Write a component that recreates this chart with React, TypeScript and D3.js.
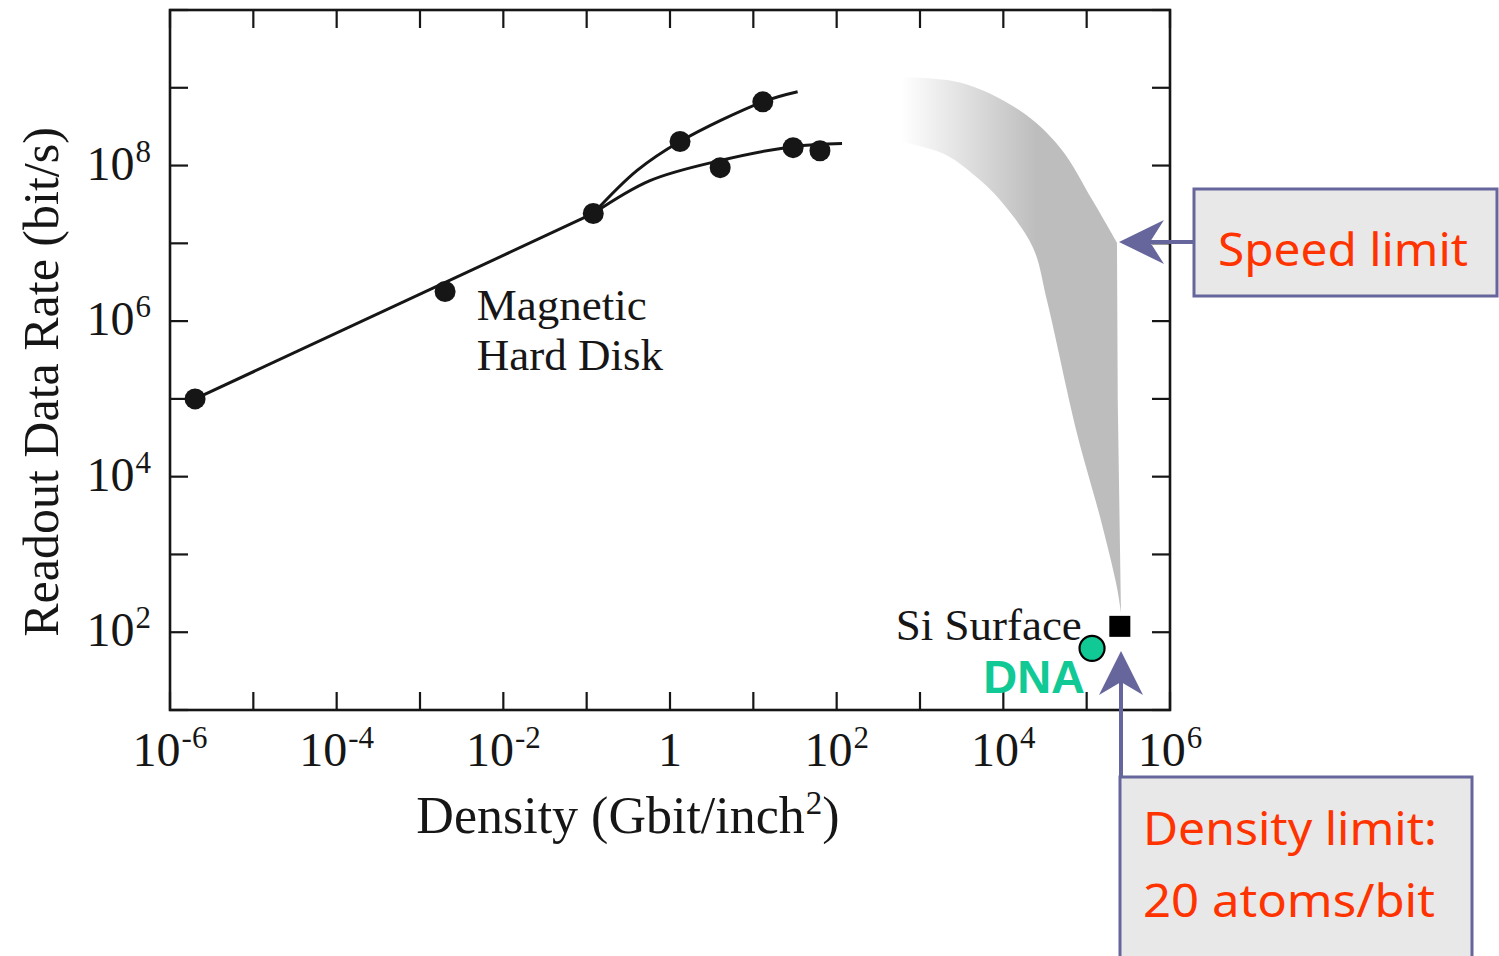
import React from "react";
import * as d3 from "d3";

// ---------- data ----------
const xTickExps = [-6, -5, -4, -3, -2, -1, 0, 1, 2, 3, 4, 5, 6];
const xLabelExps = [-6, -4, -2, 0, 2, 4, 6];
const yTickExps = [1, 2, 3, 4, 5, 6, 7, 8, 9, 10];
const yLabelExps = [2, 4, 6, 8];

// Magnetic hard disk measurements: density (Gbit/inch^2), readout rate (bit/s)
const diskDensity = [2e-6, 2e-3, 0.12, 1.32, 4, 13, 30, 63];
const diskRate = [1e5, 2.4e6, 2.42e7, 2.04e8, 9.4e7, 6.6e8, 1.7e8, 1.55e8];

// trend lines
const trendStraightDensity = [2e-6, 0.12];
const trendStraightRate = [1e5, 2.42e7];
const trendUpperDensity = [0.12, 0.4, 1.32, 13, 34];
const trendUpperRate = [2.42e7, 8.6e7, 2.04e8, 6.6e8, 8.9e8];
const trendLowerDensity = [0.12, 0.575, 4, 30, 116];
const trendLowerRate = [2.42e7, 6.4e7, 1.16e8, 1.75e8, 1.92e8];

// shaded "speed limit" band
const bandOuterCurveDensity = [400, 3020, 1.58e4, 4.8e4, 1.19e5, 2.31e5];
const bandOuterCurveRate = [1.38e9, 1.17e9, 5.1e8, 1.7e8, 3.5e7, 1.02e7];
const bandOuterEdgeDensity = [2.31e5, 2.36e5, 2.58e5];
const bandOuterEdgeRate = [1.02e7, 9.5e4, 180];
const bandInnerDensity = [2.58e5, 2.31e5, 1.45e5, 7.66e4, 3.34e4, 2.27e4, 9.9e3, 4.83e3, 1.89e3, 400];
const bandInnerRate = [180, 377, 3.0e3, 3.6e4, 1.84e6, 8.8e6, 3.25e7, 7.0e7, 1.43e8, 2.2e8];

// special points
const siDensity = 2.5e5;
const siRate = 119;
const dnaDensity = 1.16e5;
const dnaRate = 62;

// ---------- layout ----------
const W = 1499;
const H = 956;
const plot = { left: 170, right: 1170, top: 10, bottom: 710 };

const serif = "'Liberation Serif', 'Times New Roman', serif";
const comic = "'Comic Sans MS', 'Noto Sans', 'DejaVu Sans', sans-serif";
const ink = "#161616";
const arrowColor = "#66669c";
const red = "#ff3300";
const green = "#10c994";

export default function App() {
  const x = d3.scaleLog().domain([1e-6, 1e6]).range([plot.left, plot.right]);
  const y = d3.scaleLog().domain([1e1, 1e10]).range([plot.bottom, plot.top]);

  const line = d3
    .line<[number, number]>()
    .x((d) => x(d[0]))
    .y((d) => y(d[1]))
    .curve(d3.curveCatmullRom.alpha(0.5));
  const straight = d3
    .line<[number, number]>()
    .x((d) => x(d[0]))
    .y((d) => y(d[1]));

  const zip = (a: number[], b: number[]) => a.map((v, i) => [v, b[i]] as [number, number]);

  const outerCurve = line(zip(bandOuterCurveDensity, bandOuterCurveRate)) || "";
  const outerEdge = straight(zip(bandOuterEdgeDensity, bandOuterEdgeRate)) || "";
  const inner = line(zip(bandInnerDensity, bandInnerRate)) || "";
  const bandPath = outerCurve + "L" + outerEdge.slice(1) + "L" + inner.slice(1) + "Z";

  const tickLen = 18;

  const supLabel = (e: number) => {
    if (e === 0) return [<tspan key="b">1</tspan>];
    return [
      <tspan key="b">10</tspan>,
      <tspan key="s" dy={-18} dx={1} fontSize={31}>
        {String(e)}
      </tspan>,
    ];
  };

  return (
    <svg
      width={W}
      height={H}
      style={{ position: "absolute", left: 0, top: 0, background: "#fff" }}
    >
      <defs>
        <linearGradient
          id="bandGrad"
          gradientUnits="userSpaceOnUse"
          x1={x(600)}
          y1={0}
          x2={x(2.5e4)}
          y2={0}
        >
          <stop offset="0" stopColor="#ffffff" />
          <stop offset="1" stopColor="#bdbdbd" />
        </linearGradient>
      </defs>

      {/* shaded band */}
      <path d={bandPath} fill="url(#bandGrad)" stroke="none" />

      {/* frame */}
      <rect
        x={plot.left}
        y={plot.top}
        width={plot.right - plot.left}
        height={plot.bottom - plot.top}
        fill="none"
        stroke={ink}
        strokeWidth={2.6}
      />

      {/* x ticks (bottom & top, inward) */}
      {xTickExps.map((e) => {
        const px = x(Math.pow(10, e));
        return (
          <g key={"xt" + e} stroke={ink} strokeWidth={2.2}>
            <line x1={px} x2={px} y1={plot.bottom} y2={plot.bottom - tickLen} />
            <line x1={px} x2={px} y1={plot.top} y2={plot.top + tickLen} />
          </g>
        );
      })}
      {/* y ticks (left & right, inward) */}
      {yTickExps.map((e) => {
        const py = y(Math.pow(10, e));
        return (
          <g key={"yt" + e} stroke={ink} strokeWidth={2.2}>
            <line x1={plot.left} x2={plot.left + tickLen} y1={py} y2={py} />
            <line x1={plot.right} x2={plot.right - tickLen} y1={py} y2={py} />
          </g>
        );
      })}

      {/* x tick labels */}
      {xLabelExps.map((e) => (
        <text
          key={"xl" + e}
          x={x(Math.pow(10, e))}
          y={plot.bottom + 56}
          textAnchor="middle"
          fontFamily={serif}
          fontSize={48}
          fill={ink}
        >
          {supLabel(e)}
        </text>
      ))}
      {/* y tick labels */}
      {yLabelExps.map((e) => (
        <text
          key={"yl" + e}
          x={plot.left - 19}
          y={y(Math.pow(10, e)) + 14}
          textAnchor="end"
          fontFamily={serif}
          fontSize={48}
          fill={ink}
        >
          {supLabel(e)}
        </text>
      ))}

      {/* axis titles */}
      <text
        x={(plot.left + plot.right) / 2 - 42}
        y={833}
        textAnchor="middle"
        fontFamily={serif}
        fontSize={52}
        fill={ink}
      >
        <tspan>Density (Gbit/inch</tspan>
        <tspan dy={-19} dx={1} fontSize={33}>
          2
        </tspan>
        <tspan dy={19}>)</tspan>
      </text>
      <text
        transform={`translate(58, ${382}) rotate(-90)`}
        textAnchor="middle"
        fontFamily={serif}
        fontSize={50}
        fill={ink}
      >
        Readout Data Rate (bit/s)
      </text>

      {/* trend lines */}
      <g fill="none" stroke={ink} strokeWidth={3}>
        <path d={line(zip(trendStraightDensity, trendStraightRate)) || ""} />
        <path d={line(zip(trendUpperDensity, trendUpperRate)) || ""} />
        <path d={line(zip(trendLowerDensity, trendLowerRate)) || ""} />
      </g>

      {/* disk points */}
      {diskDensity.map((d, i) => (
        <circle key={"p" + i} cx={x(d)} cy={y(diskRate[i])} r={10.5} fill={ink} />
      ))}

      <text x={x(4.8e-3)} y={y(2.1e6) + 24} fontFamily={serif} fontSize={45} fill={ink}>
        <tspan x={x(4.8e-3)}>Magnetic</tspan>
        <tspan x={x(4.8e-3)} dy={50}>
          Hard Disk
        </tspan>
      </text>

      {/* Si surface */}
      <rect
        x={x(siDensity) - 10.5}
        y={y(siRate) - 10.5}
        width={21}
        height={21}
        fill="#000"
      />
      <text
        x={x(siDensity) - 38}
        y={y(siRate) + 14}
        textAnchor="end"
        fontFamily={serif}
        fontSize={45}
        fill={ink}
      >
        Si Surface
      </text>

      {/* DNA */}
      <circle
        cx={x(dnaDensity)}
        cy={y(dnaRate)}
        r={12.5}
        fill={green}
        stroke="#000"
        strokeWidth={2.2}
      />
      <text
        x={x(dnaDensity) - 7}
        y={y(dnaRate) + 45}
        textAnchor="end"
        fontFamily="'Liberation Sans', Arial, sans-serif"
        fontWeight="bold"
        fontSize={47}
        fill={green}
      >
        DNA
      </text>

      {/* Speed limit callout */}
      <line x1={1150} y1={242} x2={1195} y2={242} stroke={arrowColor} strokeWidth={4} />
      <path d="M1119,242 L1164,220 L1150,242 L1164,264 Z" fill={arrowColor} />
      <rect
        x={1194}
        y={189}
        width={303}
        height={107}
        fill="#e8e8e8"
        stroke={arrowColor}
        strokeWidth={3}
      />
      <text
        x={1218}
        y={266}
        fontFamily={comic}
        fontSize={46}
        fill={red}
        textLength={250}
        lengthAdjust="spacingAndGlyphs"
      >
        Speed limit
      </text>

      {/* Density limit callout */}
      <line x1={1121} y1={680} x2={1121} y2={778} stroke={arrowColor} strokeWidth={4} />
      <path d="M1121,651 L1143,695 L1121,682 L1099,695 Z" fill={arrowColor} />
      <rect
        x={1120}
        y={777}
        width={352}
        height={200}
        fill="#e8e8e8"
        stroke={arrowColor}
        strokeWidth={3}
      />
      <text
        x={1143}
        y={845}
        fontFamily={comic}
        fontSize={46}
        fill={red}
        textLength={294}
        lengthAdjust="spacingAndGlyphs"
      >
        Density limit:
      </text>
      <text
        x={1143}
        y={917}
        fontFamily={comic}
        fontSize={46}
        fill={red}
        textLength={292}
        lengthAdjust="spacingAndGlyphs"
      >
        20 atoms/bit
      </text>
    </svg>
  );
}
